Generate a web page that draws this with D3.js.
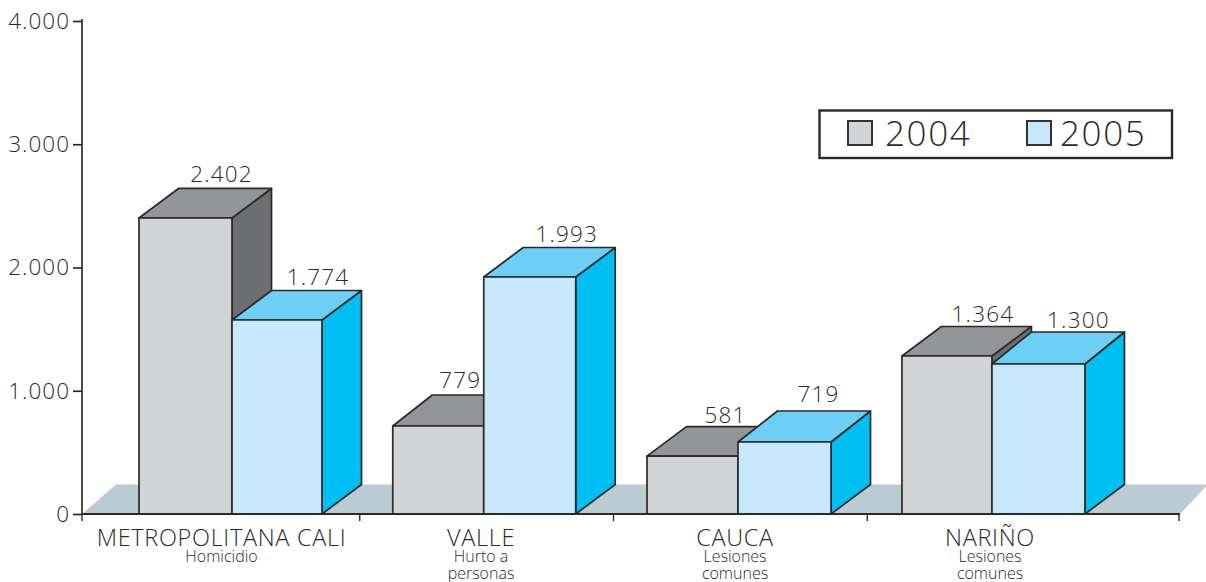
<!DOCTYPE html>
<html><head><meta charset="utf-8">
<script src="https://cdn.jsdelivr.net/npm/d3@7"></script>
<style>
html,body{margin:0;padding:0;background:#fff}
svg{display:block}
text{font-family:"Open Sans","Noto Sans",sans-serif;font-weight:300;fill:#2b2a29}
</style></head><body>
<script>
const categories = ["METROPOLITANA CALI","VALLE","CAUCA","NARIÑO"];
const subLabels = [["Homicidio"],["Hurto a","personas"],["Lesiones","comunes"],["Lesiones","comunes"]];
const seriesNames = ["2004","2005"];
// bar heights as drawn in the picture (on the axis scale)
const drawn2004 = [2402,714,470,1282];
const drawn2005 = [1574,1923,584,1217];
// printed value labels
const labels2004 = ["2.402","779","581","1.364"];
const labels2005 = ["1.774","1.993","719","1.300"];
const yTicks = [0,1000,2000,3000,4000];
const yTickLabels = ["0","1.000","2.000","3.000","4.000"];

// layout tweaks, separate from the data
const barEdges = [[33,126,216],[33,124,216],[33.5,124.5,217.5],[34.7,124.7,217.7]];
const labelShift = [[36,41],[22,37],[33,34],[36,40]];
const labelRaise = [[6,6],[7,5],[4,9],[4,4]];
const depthY = [[29.5,29.5],[31,29.5],[29.5,31],[29.5,32]];
const catCenters = [221.5,481,735,990];

const W=1206,H=582;
const dx=39.5,dyFloor=29.5;
const colors={ "2004":{front:"#d1d3d4",top:"#939598",side:"#6d6e70"},
               "2005":{front:"#c7e8fb",top:"#6dcff6",side:"#00bff3"} };
const ink="#2b2a29";

const svg=d3.select("body").append("svg").attr("width",W).attr("height",H);
const y=d3.scaleLinear().domain([0,4000]).range([514,21]);
const x0=d3.scaleBand().domain(categories).range([106,1121]);
const line=d3.line();

// floor
svg.append("path").attr("fill","#b9cbd3")
  .attr("d",line([[82,y(0)],[82+34,y(0)-dyFloor],[1208,y(0)-dyFloor],[1180,y(0)]])+"Z");

// bars
const data=categories.map((c,i)=>({c,i,vals:[
  {s:"2004",k:0,v:drawn2004[i],l:labels2004[i]},
  {s:"2005",k:1,v:drawn2005[i],l:labels2005[i]}]}));
const g=svg.selectAll("g.cat").data(data).join("g").attr("class","cat");
g.each(function(d){
  const sel=d3.select(this);
  d.vals.forEach(b=>{
    const xl=x0(d.c)+barEdges[d.i][b.k], xr=x0(d.c)+barEdges[d.i][b.k+1], yt=y(b.v), yb=y(0), c=colors[b.s];
    const dy=depthY[d.i][b.k];
    const add=(pts,f)=>sel.append("path").attr("d",line(pts)+"Z").attr("fill",f)
      .attr("stroke",ink).attr("stroke-width",1.7).attr("stroke-linejoin","round");
    add([[xr,yb],[xr+dx,yb-dyFloor],[xr+dx,yt-dy],[xr,yt]],c.side);
    add([[xl,yt],[xl+dx,yt-dy],[xr+dx,yt-dy],[xr,yt]],c.top);
    add([[xl,yb],[xl,yt],[xr,yt],[xr,yb]],c.front);
  });
});
// value labels on top
g.each(function(d){
  const sel=d3.select(this);
  d.vals.forEach(b=>{
    const xc=x0(d.c)+(barEdges[d.i][b.k]+barEdges[d.i][b.k+1])/2;
    sel.append("text").attr("x",xc+labelShift[d.i][b.k])
      .attr("y",y(b.v)-depthY[d.i][b.k]-labelRaise[d.i][b.k]).attr("text-anchor","middle").attr("font-size",22.5)
      .attr("letter-spacing",1.2).text(b.l);
  });
});

// axes
const yAxis=d3.axisLeft(y).tickValues(yTicks).tickFormat((d,i)=>yTickLabels[i]).tickSize(9).tickPadding(3);
const ya=svg.append("g").attr("transform","translate(82,0)").call(yAxis);
ya.select(".domain").attr("stroke",ink).attr("stroke-width",1.7).attr("d","M0,19V514");
ya.selectAll("line").attr("stroke",ink).attr("stroke-width",1.7);
ya.selectAll("text").attr("font-size",22.5).attr("font-family",null).attr("fill",ink).attr("dy","0.33em").attr("letter-spacing",1);

const xTicks=[82,x0(categories[1]),x0(categories[2]),x0(categories[3]),1179];
const xa=svg.append("g").attr("transform","translate(0,514)");
xa.append("line").attr("x1",82).attr("x2",1180).attr("stroke",ink).attr("stroke-width",1.9);
xa.selectAll("line.t").data(xTicks).join("line").attr("class","t")
  .attr("x1",d=>d).attr("x2",d=>d).attr("y1",0).attr("y2",7)
  .attr("stroke",ink).attr("stroke-width",1.4);

// category labels
const labelG=svg.selectAll("g.lab").data(categories).join("g").attr("class","lab")
 .attr("transform",(c,i)=>`translate(${catCenters[i]},0)`);
labelG.append("text").attr("y",546).attr("text-anchor","middle").attr("font-size",23.5).attr("letter-spacing",0.67).text(d=>d);
labelG.each(function(c,i){
  subLabels[i].forEach((t,j)=>d3.select(this).append("text")
    .attr("y",562+j*16.5).attr("text-anchor","middle")
    .attr("font-size",16).attr("font-weight",400).text(t));
});

// legend
const lg=svg.append("g");
lg.append("rect").attr("x",819.5).attr("y",110.5).attr("width",352.5).attr("height",47.5)
  .attr("fill","#fff").attr("stroke",ink).attr("stroke-width",2.4);
seriesNames.forEach((s,i)=>{
  const rx=[848,1027][i];
  lg.append("rect").attr("x",rx).attr("y",121).attr("width",24).attr("height",24)
    .attr("fill",colors[s].front).attr("stroke",ink).attr("stroke-width",1.9);
  lg.append("text").attr("x",[885,1060][i]).attr("y",146).attr("font-size",35).attr("letter-spacing",1.6).text(s);
});
</script>
</body></html>
